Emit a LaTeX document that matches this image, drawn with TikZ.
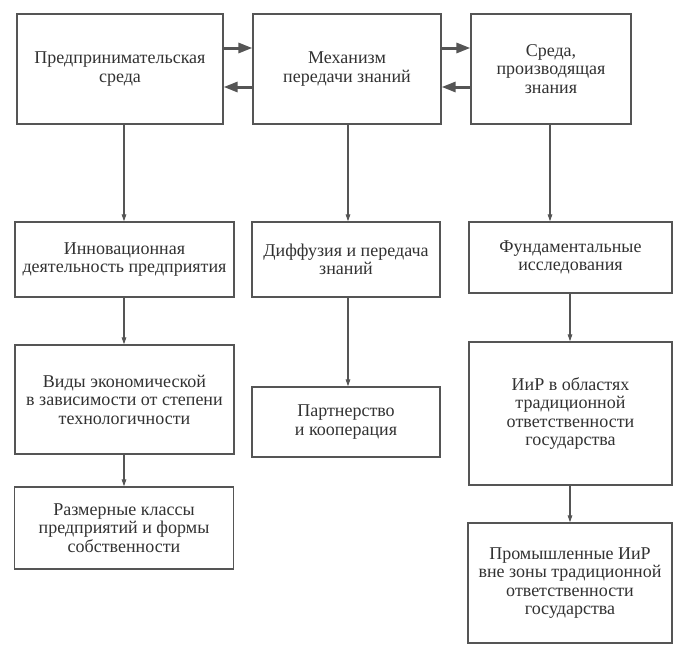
\documentclass[tikz,border=0pt]{standalone}
\usepackage{fontspec}
\setmainfont{LiberationSerif}[Extension=.ttf, UprightFont=*-Regular, BoldFont=*-Bold]
\usetikzlibrary{arrows.meta}
\definecolor{lc}{RGB}{85,85,85}
\definecolor{tc}{RGB}{50,50,50}
\begin{document}
\begin{tikzpicture}[x=1pt,y=-1pt,
  box/.style={draw=lc, line width=1.3pt, rectangle, inner sep=0pt, align=center, text=tc,
    font=\fontsize{18}{18.5}\selectfont},
  smallarrow/.style={draw=lc, line width=1.2pt, -{Triangle[length=7pt,width=4.5pt]}},
  bigarrow/.style={draw=lc, line width=3pt, -{Triangle[length=14pt,width=10pt]}}]
\useasboundingbox[fill=white] (0,0) rectangle (683,653);
% top row
\node[box, minimum width=206pt, minimum height=110pt] (A) at (120,69) {Предпринимательская\\среда};
\node[box, minimum width=188pt, minimum height=110pt] (B) at (347,69) {Механизм\\передачи знаний};
\node[box, minimum width=160pt, minimum height=110pt] (C) at (551,69) {Среда,\\производящая\\знания};
% second row
\node[box, minimum width=219pt, minimum height=75pt] (A2) at (124.5,259.5) {Инновационная\\деятельность предприятия};
\node[box, minimum width=188pt, minimum height=75pt] (B2) at (346,259.5) {Диффузия и передача\\знаний};
\node[box, minimum width=203pt, minimum height=71pt] (C2) at (570.5,257.5) {Фундаментальные\\исследования};
% third row
\node[box, minimum width=219pt, minimum height=109pt] (A3) at (124.5,399.5) {Виды экономической\\в зависимости от степени\\технологичности};
\node[box, minimum width=188pt, minimum height=70pt] (B3) at (346,422) {Партнерство\\и кооперация};
\node[box, minimum width=203pt, minimum height=143pt] (C3) at (570.5,413.5) {ИиР в областях\\традиционной\\ответственности\\государства};
% fourth row
\node[box, minimum width=219pt, minimum height=82pt] (A4) at (124,528) {Размерные классы\\предприятий и формы\\собственности};
\node[box, minimum width=204pt, minimum height=120pt] (C4) at (570,583) {Промышленные ИиР\\вне зоны традиционной\\ответственности\\государства};
% helper coordinates
\coordinate (ca) at (124,0);
\coordinate (cb) at (348,0);
\coordinate (cc) at (550,0);
\coordinate (cd) at (570,0);
\coordinate (ya) at (0,48);
\coordinate (yb) at (0,87);
% horizontal thick arrows
\draw[bigarrow] (A.east |- ya) -- (B.west |- ya);
\draw[bigarrow] (B.west |- yb) -- (A.east |- yb);
\draw[bigarrow] (B.east |- ya) -- (C.west |- ya);
\draw[bigarrow] (C.west |- yb) -- (B.east |- yb);
% vertical arrows
\draw[smallarrow] (A.south -| ca) -- (A2.north -| ca);
\draw[smallarrow] (A2.south -| ca) -- (A3.north -| ca);
\draw[smallarrow] (A3.south -| ca) -- (A4.north -| ca);
\draw[smallarrow] (B.south -| cb) -- (B2.north -| cb);
\draw[smallarrow] (B2.south -| cb) -- (B3.north -| cb);
\draw[smallarrow] (C.south -| cc) -- (C2.north -| cc);
\draw[smallarrow] (C2.south -| cd) -- (C3.north -| cd);
\draw[smallarrow] (C3.south -| cd) -- (C4.north -| cd);
\end{tikzpicture}
\end{document}
